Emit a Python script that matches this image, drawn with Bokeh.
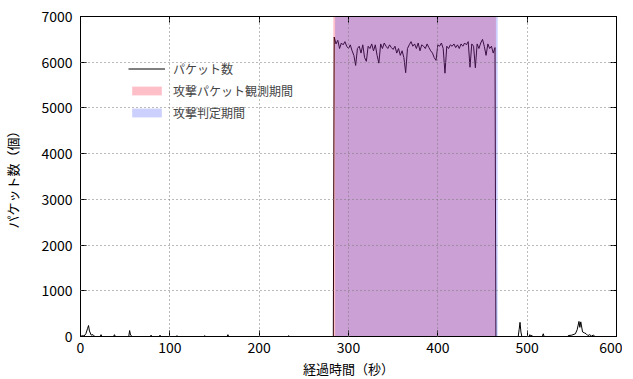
from bokeh.plotting import figure
from bokeh.models import (ColumnDataSource, Range1d, LinearAxis, FixedTicker,
                          Legend, LegendItem, CustomJSTickFormatter)
from bokeh.embed import file_html
from bokeh.resources import INLINE

# ---- data ----
# packet count time series (time in seconds, packets)
pre_t = [0, 2, 4, 6, 8, 9, 10, 12, 14, 16, 22, 23, 24, 37, 38, 39, 54, 55, 56, 58,
         78, 79, 80, 88, 89, 90, 107, 108, 109, 138, 139, 140, 164, 165, 166,
         232, 233, 234, 282, 283]
pre_v = [0, 20, 10, 60, 180, 240, 120, 30, 40, 0, 0, 40, 0, 0, 40, 0, 0, 130, 30, 0,
         0, 30, 0, 0, 30, 0, 0, 20, 0, 0, 20, 0, 0, 40, 0,
         0, 20, 0, 0, 0]
atk_t = [284, 286, 288, 290, 292, 294, 296, 298, 300, 302, 304, 306, 308, 310, 312,
         314, 316, 318, 320, 322, 324, 326, 328, 330, 332, 334, 336, 338, 340, 342,
         344, 346, 348, 350, 352, 354, 356, 358, 360, 362, 364, 366, 368, 370, 372,
         374, 376, 378, 380, 382, 384, 386, 388, 390, 392, 394, 396, 398, 400, 402,
         404, 406, 408, 410, 412, 414, 416, 418, 420, 422, 424, 426, 428, 430, 432,
         434, 436, 438, 440, 442, 444, 446, 448, 450, 452, 454, 456, 458, 460, 462,
         464]
atk_v = [6550, 6400, 6480, 6300, 6420, 6380, 6450, 6350, 6300, 6380, 6250, 6150, 5930, 6300, 6350,
         6200, 6380, 6100, 6020, 6350, 6300, 6400, 6250, 6380, 6150, 5980, 6400, 6300, 6420, 6350,
         6300, 6380, 6320, 6280, 6350, 6200, 6300, 6150, 6250, 6100, 5770, 6300, 6380, 6450, 6350,
         6400, 6300, 6420, 6250, 6380, 6350, 6300, 6400, 6320, 6250, 6200, 6100, 6040, 6380, 6350,
         6420, 6300, 5760, 6350, 6300, 6380, 6350, 6400, 6320, 6380, 6300, 6400, 6350, 6420, 6380,
         6450, 5890, 6400, 6350, 5880, 6400, 6300, 6420, 6500, 6350, 6150, 6400, 6300, 6350, 6200,
         6320]
post_t = [465, 490, 491, 492, 493, 494, 502, 503, 504, 505, 506, 517, 518, 519, 545, 546,
          550, 554, 556, 558, 559, 560, 562, 564, 566, 568, 570, 572, 574, 576, 580]
post_v = [0, 0, 150, 310, 100, 0, 0, 40, 0, 30, 0, 0, 60, 0, 0, 20,
          30, 60, 150, 330, 200, 320, 100, 80, 60, 20, 40, 10, 30, 0, 0]

# periods (seconds)
observe_period = [283, 465]   # 攻撃パケット観測期間
judge_period = [285, 467]     # 攻撃判定期間

x_ticks = [0, 100, 200, 300, 400, 500, 600]
y_ticks = [0, 1000, 2000, 3000, 4000, 5000, 6000, 7000]

label_line = "パケット数"
label_obs = "攻撃パケット観測期間"
label_judge = "攻撃判定期間"
x_title = "経過時間（秒）"
y_title = "パケット数（個）"

# ---- figure ----
JP = "Noto Sans CJK JP"
p = figure(frame_width=536, frame_height=320, output_backend="svg", toolbar_location=None,
           x_range=Range1d(0, 600), y_range=Range1d(0, 7000),
           min_border_left=77, min_border_right=6, min_border_top=16,
           min_border_bottom=30)
p.background_fill_color = "white"
p.border_fill_color = "white"
p.outline_line_color = "black"
p.outline_line_width = 1

t_all = pre_t + atk_t + post_t
v_all = pre_v + atk_v + post_v
src = ColumnDataSource(dict(t=t_all, v=v_all))
r_line = p.line("t", "v", source=src, line_color="black", line_width=1)

obs_src = ColumnDataSource(dict(l=[observe_period[0]], r=[observe_period[1]],
                                b=[y_ticks[0]], t=[y_ticks[-1]]))
judge_src = ColumnDataSource(dict(l=[judge_period[0]], r=[judge_period[1]],
                                  b=[y_ticks[0]], t=[y_ticks[-1]]))
r_obs = p.quad(left="l", right="r", bottom="b", top="t", source=obs_src,
               fill_color="#ff0028", fill_alpha=0.25, line_color=None)
r_judge = p.quad(left="l", right="r", bottom="b", top="t", source=judge_src,
                 fill_color="#2f42f8", fill_alpha=0.25, line_color=None)

# axes
for ax in (p.xaxis[0], p.yaxis[0]):
    ax.major_tick_in = 6
    ax.major_tick_out = 0
    ax.minor_tick_in = 0
    ax.minor_tick_out = 0
    ax.axis_line_color = "black"
    ax.major_tick_line_color = "black"
    ax.major_label_text_font = JP
    ax.major_label_text_font_size = "14px"
    ax.major_label_text_color = "black"
    ax.axis_label_text_font = JP
    ax.axis_label_text_font_size = "13px"
    ax.axis_label_text_font_style = "normal"
    ax.axis_label_text_color = "black"
p.xaxis[0].ticker = FixedTicker(ticks=x_ticks)
p.yaxis[0].ticker = FixedTicker(ticks=y_ticks)
p.xaxis[0].axis_label = x_title
p.yaxis[0].axis_label = y_title
p.xaxis[0].major_label_standoff = 5
p.xaxis[0].axis_label_standoff = 3
p.yaxis[0].major_label_standoff = 8
p.yaxis[0].axis_label_standoff = 16

# mirrored axes (ticks only, no labels)
blank = CustomJSTickFormatter(code="return ''")
top_ax = LinearAxis(ticker=FixedTicker(ticks=x_ticks), formatter=blank,
                    major_tick_in=6, major_tick_out=0, minor_tick_in=0, minor_tick_out=0,
                    axis_line_color="black", major_label_standoff=0)
right_ax = LinearAxis(ticker=FixedTicker(ticks=y_ticks), formatter=blank,
                      major_tick_in=6, major_tick_out=0, minor_tick_in=0, minor_tick_out=0,
                      axis_line_color="black", major_label_standoff=0)
p.add_layout(top_ax, "above")
p.add_layout(right_ax, "right")

# grid (inner ticks only), drawn above fills
p.xgrid[0].ticker = FixedTicker(ticks=x_ticks[1:-1])
p.ygrid[0].ticker = FixedTicker(ticks=y_ticks[1:-1])
for g in (p.xgrid[0], p.ygrid[0]):
    g.grid_line_color = "#777777"
    g.grid_line_dash = "1 3"
    g.grid_line_width = 1
    g.level = "overlay"

legend = Legend(items=[LegendItem(label=label_line, renderers=[r_line]),
                       LegendItem(label=label_obs, renderers=[r_obs]),
                       LegendItem(label=label_judge, renderers=[r_judge])],
                location=(48, 215), orientation="vertical",
                label_text_font=JP, label_text_font_size="12px",
                glyph_width=37, glyph_height=11, label_height=12,
                spacing=5, padding=0, margin=0, label_standoff=8,
                border_line_color=None, background_fill_alpha=0)
p.add_layout(legend, "center")

open("out.html", "w").write(file_html(p, INLINE))
